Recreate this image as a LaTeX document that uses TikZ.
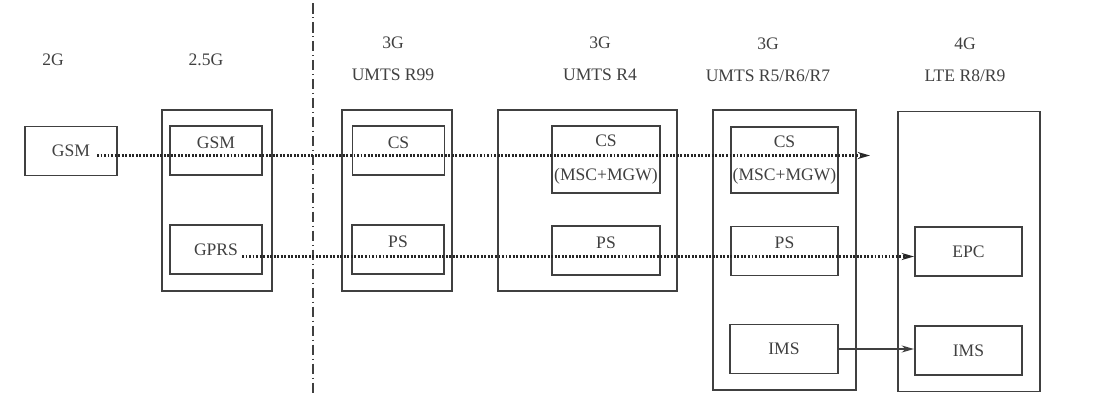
\documentclass[tikz,border=0pt]{standalone}
\usepackage{fontspec}
\setmainfont{Liberation Serif}
\usetikzlibrary{arrows.meta, calc}
\definecolor{inkgray}{HTML}{404040}

\begin{document}
\begin{tikzpicture}[
    x=0.02cm, y=-0.02cm,
    every node/.style={font=\fontsize{10}{12}\selectfont, text=inkgray},
    box/.style={draw=inkgray, line width=0.9pt, inner sep=0pt, minimum width=1.84cm, minimum height=0.98cm},
    wbox/.style={box, minimum width=2.15cm},
    ccbox/.style={wbox, minimum height=1.33cm, align=center},
    toptext/.style={label={[anchor=north, yshift=-3pt]north:#1}},
    outer/.style={draw=inkgray, line width=0.9pt, minimum width=2.2cm, minimum height=3.62cm},
    tall/.style={outer, minimum width=2.85cm, minimum height=5.6cm},
    head/.style={align=center},
    flow/.style={dash pattern=on 1.1pt off 0.9pt, draw=black!85},
    arrow/.style={line width=0.9pt, draw=inkgray, ->, >={Stealth[length=7pt, width=4pt]}}
  ]
    \useasboundingbox (0,0) rectangle (1112,406);

    % Headers
    \node[head] (h2g) at (53,60) {2G};
    \node[head] (h25g) at (206,60) {2.5G};
    \node[head] (hr99) at (393,59) {3G\\[6pt]UMTS R99};
    \node[head] (hr4) at (600,59) {3G\\[6pt]UMTS R4};
    \node[head] (hr5) at (768,60) {3G\\[6pt]UMTS R5/R6/R7};
    \node[head] (h4g) at (965,60) {4G\\[6pt]LTE R8/R9};

    % 2G / 2.5G
    \node[box] (gsm) at (71,151) {GSM};
    \node[outer] (g25) at (217,200.5) {};
    \node[box, toptext=GSM] (gsm25) at (216,150.5) {};
    \node[box] (gprs) at (216,249.5) {GPRS};

    % Split between 2G and 3G
    \draw[inkgray, line width=0.9pt, dash pattern=on 6pt off 2pt on 0.8pt off 2pt] (313,3) -- (313,393);

    % UMTS R99
    \node[outer] (r99) at (397,200.5) {};
    \node[box, toptext=CS] (cs99) at (398.5,150.5) {};
    \node[box, toptext=PS] (ps99) at (398,249.5) {};

    % UMTS R4
    \node[outer, minimum width=3.58cm] (r4) at (587.5,200.5) {};
    \node[ccbox] (cs4) at (606,159.5) {CS\\[7pt](MSC+MGW)};
    \node[wbox, toptext=PS] (ps4) at (606,250.5) {};

    % UMTS R5/R6/R7
    \node[tall] (r5) at (784.5,250) {};
    \node[ccbox] (cs5) at (784.5,160) {CS\\[7pt](MSC+MGW)};
    \node[wbox, toptext=PS] (ps5) at (784.5,251) {};
    \node[wbox] (ims5) at (784,349) {IMS};

    % LTE R8/R9
    \node[tall] (lte) at (969,251.5) {};
    \node[wbox] (epc) at (968.5,251.5) {EPC};
    \node[wbox] (ims4) at (968.5,350.5) {IMS};

    % Evolution paths
    \coordinate (gsmout) at (97,155.5);
    \coordinate (cstip) at (870,155.5);
    \coordinate (gprsout) at (242,256.5);
    \draw[arrow, flow, line width=1.2pt] (gsmout) -- (cstip);
    \draw[arrow, flow, line width=1.2pt] (gprsout) -- (gprsout -| epc.west);
    \draw[arrow] (ims5.east) -- (ims5.east -| ims4.west);
\end{tikzpicture}
\end{document}
